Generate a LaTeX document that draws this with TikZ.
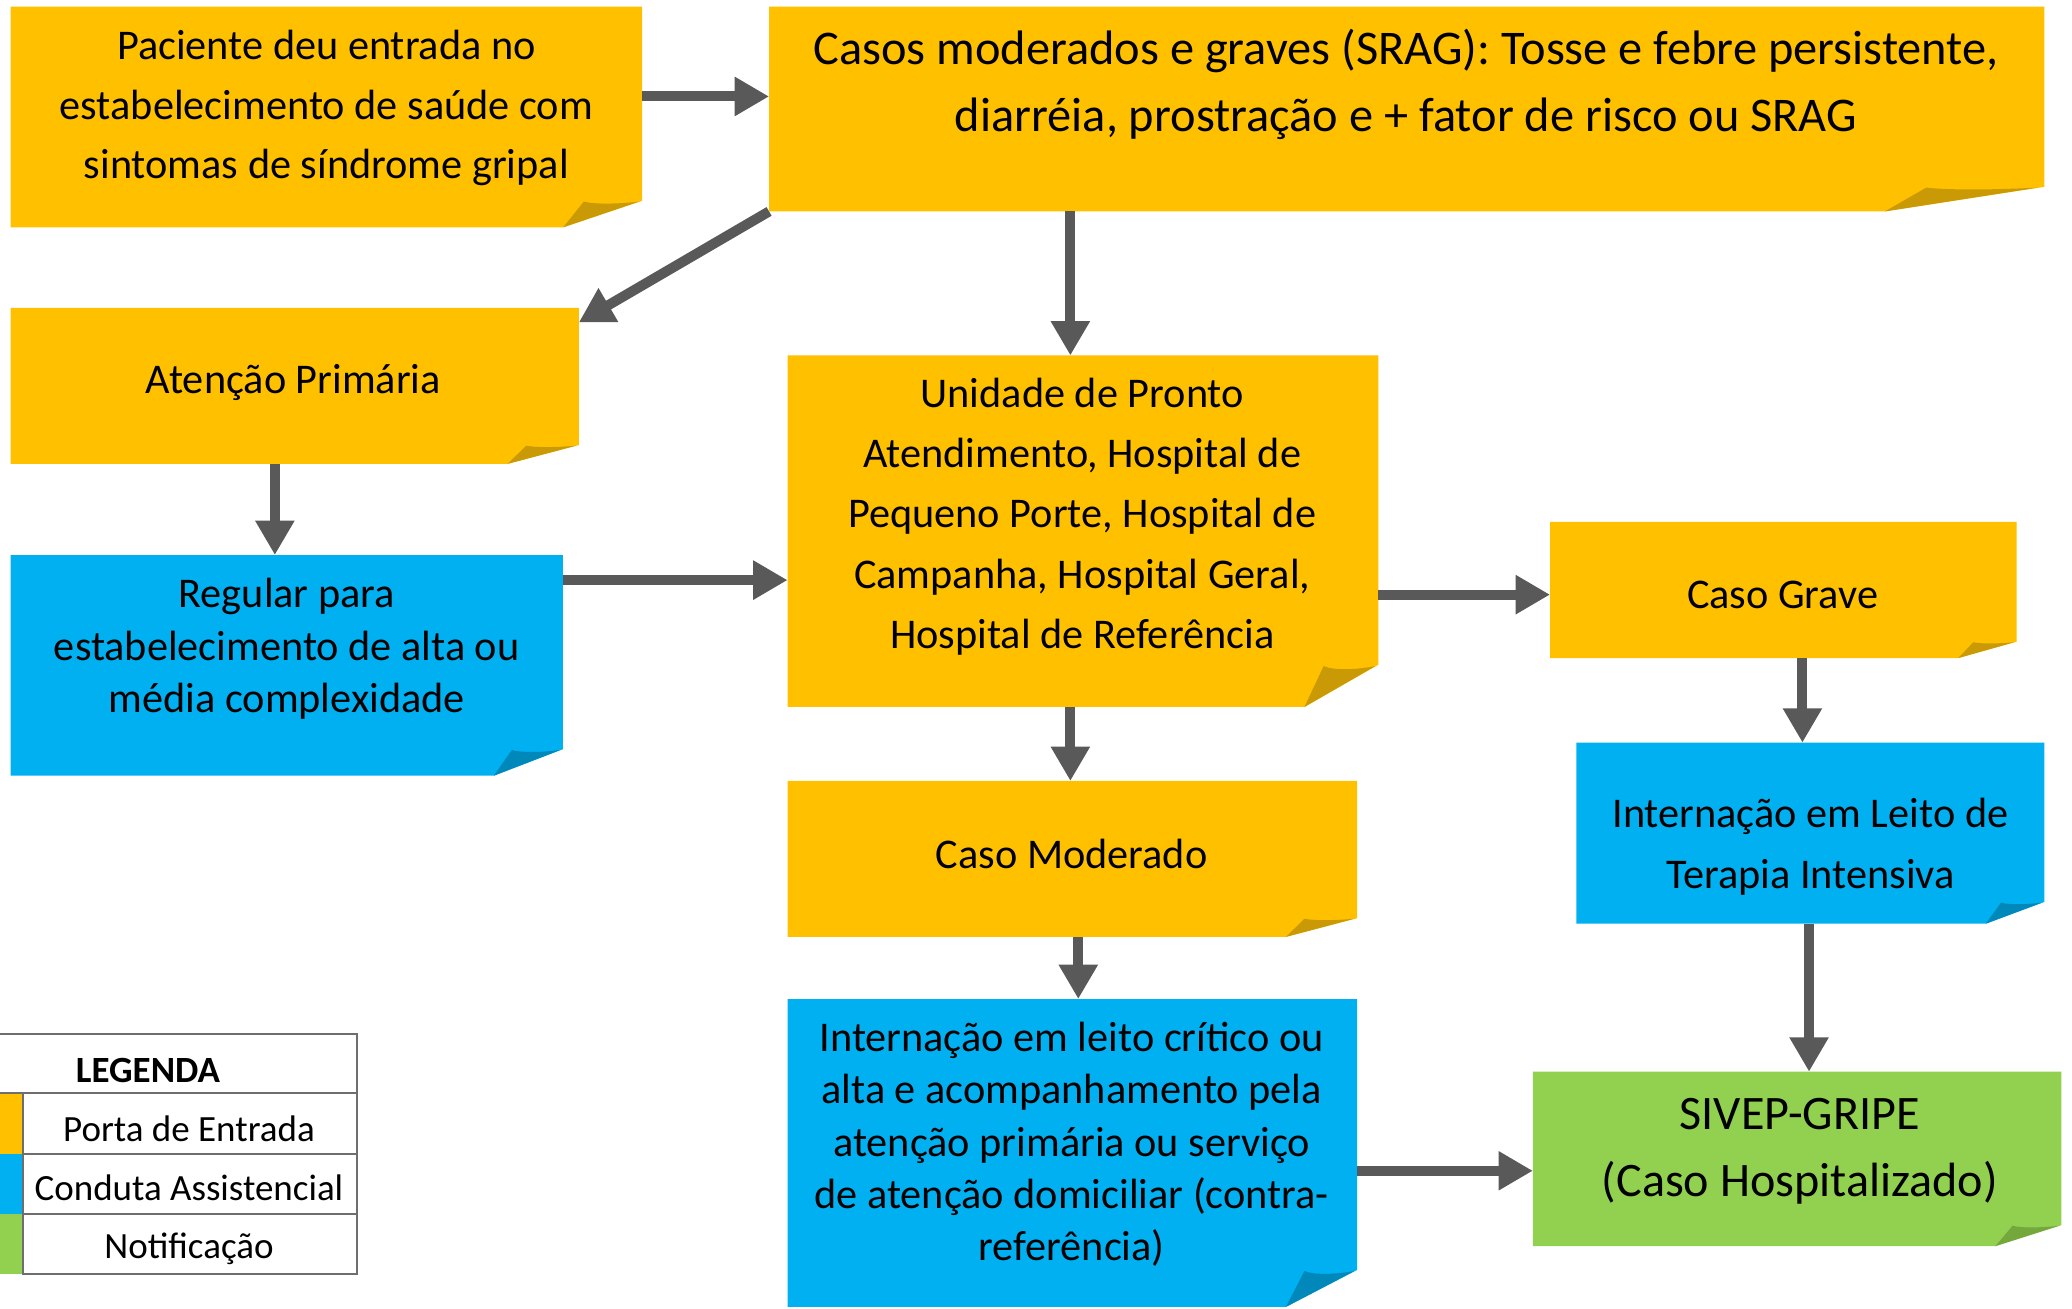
\documentclass[tikz,border=0pt]{standalone}
\usepackage{fontspec}
\setmainfont{Carlito}
\usetikzlibrary{arrows.meta,calc,fit}
\definecolor{org}{HTML}{FFC000}
\definecolor{orgd}{HTML}{C99A06}
\definecolor{blu}{HTML}{00B0F0}
\definecolor{blud}{HTML}{0088BA}
\definecolor{grn}{HTML}{92D050}
\definecolor{grnd}{HTML}{74A83C}
\definecolor{arrowgray}{HTML}{595959}
\definecolor{leggray}{HTML}{6E6E6E}
\tikzset{
  note/.style 2 args={inner sep=0pt, outer sep=0pt, path picture={
    \fill[#1] let \p1=(path picture bounding box.south west), \p2=(path picture bounding box.north east),
      \n1={0.125*(\x2-\x1)}, \n2={0.12*(\y2-\y1)} in
      (\x1,\y1) -- (\x1,\y2) -- (\x2,\y2) -- (\x2,\y1+\n2) -- (\x2-\n1,\y1) -- cycle;
    \fill[#2] let \p1=(path picture bounding box.south west), \p2=(path picture bounding box.north east),
      \n1={0.125*(\x2-\x1)}, \n2={0.12*(\y2-\y1)} in
      (\x2-\n1,\y1) -- (\x2-0.74*\n1,\y1+0.97*\n2) .. controls (\x2-0.6*\n1,\y1+0.86*\n2) and (\x2-0.3*\n1,\y1+0.88*\n2) .. (\x2-0.04*\n1,\y1+0.97*\n2) -- cycle;
  }},
  txt/.style={align=center, inner sep=0pt, text=black},
  arr/.style={draw=arrowgray, line width=3.8pt, -{Triangle[width=14pt,length=13pt]}},
  legline/.style={draw=leggray, line width=0.8pt},
  legtxt/.style={inner sep=0pt, font=\fontsize{14}{16}\selectfont},
}
\begin{document}
\begin{tikzpicture}[x=0.5pt,y=-0.5pt]
\fill[white] (0,0) rectangle (1568,990);
\useasboundingbox (0,0) rectangle (1568,990);

% boxes
\node[note={org}{orgd}, fit={(8,5) (486,172)}] (n1) {};
\node[note={org}{orgd}, fit={(582,5) (1547,160)}] (n2) {};
\node[note={org}{orgd}, fit={(8,233) (438,351)}] (n3) {};
\node[note={blu}{blud}, fit={(8,420) (426,587)}] (n4) {};
\node[note={org}{orgd}, fit={(596,269) (1043,535)}] (n5) {};
\node[note={org}{orgd}, fit={(1173,395) (1526,498)}] (n6) {};
\node[note={org}{orgd}, fit={(596,591) (1027,709)}] (n7) {};
\node[note={blu}{blud}, fit={(1193,562) (1547,699)}] (n8) {};
\node[note={blu}{blud}, fit={(596,756) (1027,989)}] (n9) {};
\node[note={grn}{grnd}, fit={(1160,811) (1560,943)}] (n10) {};

% texts
\node[txt, font=\fontsize{16}{22.5}\selectfont] (t1) at (247,82) {Paciente deu entrada no\\estabelecimento de saúde com\\sintomas de síndrome gripal};
\node[txt, font=\fontsize{18.3}{25.5}\selectfont] (t2) at (1064,64) {Casos moderados e graves (SRAG): Tosse e febre persistente,\\diarréia, prostração e + fator de risco ou SRAG};
\node[txt, font=\fontsize{16}{20}\selectfont] (t3) at (222,289.5) {Atenção Primária};
\node[txt, font=\fontsize{16}{20}\selectfont] (t4) at (217,491) {Regular para\\estabelecimento de alta ou\\média complexidade};
\node[txt, font=\fontsize{16}{22.75}\selectfont] (t5) at (819,391) {Unidade de Pronto\\Atendimento, Hospital de\\Pequeno Porte, Hospital de\\Campanha, Hospital Geral,\\Hospital de Referência};
\node[txt, font=\fontsize{16}{20}\selectfont] (t6) at (1349,450) {Caso Grave};
\node[txt, font=\fontsize{16}{20}\selectfont] (t7) at (811,646) {Caso Moderado};
\node[txt, font=\fontsize{16}{23}\selectfont] (t8) at (1370,640.5) {Internação em Leito de\\Terapia Intensiva};
\node[txt, font=\fontsize{16}{19.75}\selectfont] (t9) at (811,866) {Internação em leito crítico ou\\alta e acompanhamento pela\\atenção primária ou serviço\\de atenção domiciliar (contra-\\referência)};
\node[txt, font=\fontsize{18.2}{25.5}\selectfont] (t10) at (1362,871) {SIVEP-GRIPE\\(Caso Hospitalizado)};

% arrows
\draw[arr] (n1.east |- 0,73) -- (n2.west |- 0,73);
\draw[arr] (n2.south west) -- (n3.north east |- 0,244);
\draw[arr] (n2.south -| 810,0) -- (n5.north -| 810,0);
\draw[arr] (n3.south -| 208,0) -- (n4.north -| 208,0);
\draw[arr] (n4.east |- 0,439) -- (n5.west |- 0,439);
\draw[arr] (n5.east |- 0,450) -- (n6.west |- 0,450);
\draw[arr] (n5.south -| 810,0) -- (n7.north -| 810,0);
\draw[arr] (n6.south -| 1364,0) -- (n8.north -| 1364,0);
\draw[arr] (n7.south -| 816,0) -- (n9.north -| 816,0);
\draw[arr] (n8.south -| 1369,0) -- (n10.north -| 1369,0);
\draw[arr] (n9.east |- 0,886) -- (n10.west |- 0,886);

% legend
\fill[org] (0,827) rectangle (17.7,873);
\fill[blu] (0,873) rectangle (17.7,918.8);
\fill[grn] (0,918.8) rectangle (17.7,964);
\draw[legline] (0,782.5) -- (270,782.5) -- (270,964) -- (17.7,964) -- (17.7,827);
\draw[legline] (0,827) -- (270,827);
\draw[legline] (17.7,873) -- (270,873);
\draw[legline] (17.7,918.8) -- (270,918.8);
\node[legtxt, font=\fontsize{14}{16}\selectfont\bfseries] (lg) at (112,810) {LEGENDA};
\node[legtxt] (l1) at (143,854) {Porta de Entrada};
\node[legtxt] (l2) at (143,899) {Conduta Assistencial};
\node[legtxt] (l3) at (143,945) {Notificação};
\end{tikzpicture}
\end{document}
